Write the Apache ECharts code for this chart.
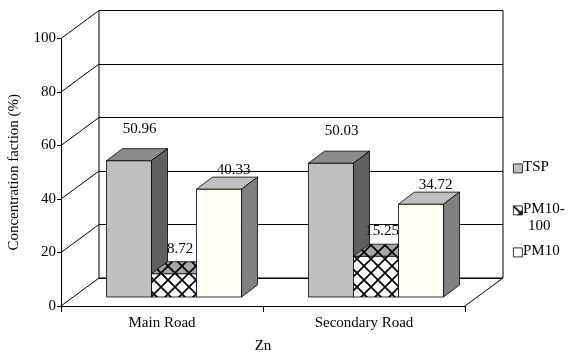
<!DOCTYPE html>
<html>
<head>
<meta charset="utf-8">
<script src="https://cdn.jsdelivr.net/npm/echarts@6/dist/echarts.min.js"></script>
<style>
  html, body { margin: 0; padding: 0; background: #fff; }
  #chart { width: 569px; height: 355px; }
</style>
</head>
<body>
<div id="chart"></div>
<script>
// Zn concentration fractions by road type
const categories = ['Main Road', 'Secondary Road'];
const seriesNames = ['TSP', 'PM10-100', 'PM10'];
const tsp = [50.96, 50.03];
const pm10to100 = [8.72, 15.25];
const pm10 = [40.33, 34.72];
const yTicks = [0, 20, 40, 60, 80, 100];

const FONT = "'Liberation Serif', 'Times New Roman', serif";

// pseudo-3D geometry (pixels)
const DX = 38, DY = 28;          // full depth of the floor / side wall
const FX = 12, FY = 9;           // bars sit this far behind the front plane
const BX = 16, BY = 12;          // depth of each bar
const BAR_FRAC = 45 / 202;       // bar width as a fraction of the category band

function hatchCanvas(bg) {
  const s = 14;
  const c = document.createElement('canvas');
  c.width = s; c.height = s;
  const g = c.getContext('2d');
  g.fillStyle = bg;
  g.fillRect(0, 0, s, s);
  g.strokeStyle = '#000';
  g.lineWidth = 1.7;
  g.beginPath();
  g.moveTo(-1, -1); g.lineTo(s + 1, s + 1);
  g.moveTo(s + 1, -1); g.lineTo(-1, s + 1);
  g.stroke();
  return c;
}
function dotCanvas() {
  const s = 8;
  const c = document.createElement('canvas');
  c.width = s; c.height = s;
  const g = c.getContext('2d');
  g.fillStyle = '#fffff6';
  g.fillRect(0, 0, s, s);
  g.fillStyle = '#eeeec4';
  g.fillRect(1, 1, 1, 1);
  g.fillRect(5, 5, 1, 1);
  return c;
}
const hatchFront = { image: hatchCanvas('#ffffff'), repeat: 'repeat' };
const hatchTop = { image: hatchCanvas('#a8a8a8'), repeat: 'repeat' };
const hatchSide = { image: hatchCanvas('#707070'), repeat: 'repeat' };
const dotFront = { image: dotCanvas(), repeat: 'repeat' };

const barStyles = [
  { front: '#c0c0c0', top: '#8c8c8c', side: '#606060', nudge: [10.5, -20] },
  { front: hatchFront, top: hatchTop, side: hatchSide, nudge: [6, -13] },
  { front: dotFront, top: '#c0c0c0', side: '#808080', nudge: [14.5, -7] }
];

function barRenderer(k) {
  const st = barStyles[k];
  return function (params, api) {
    const cat = api.value(0), v = api.value(1);
    const base = api.coord([cat, 0]);
    const top = api.coord([cat, v]);
    const bw = api.size([1, 0])[0] * BAR_FRAC;
    const cx = base[0] + FX + (k - 1) * bw;
    const x0 = cx - bw / 2, x1 = cx + bw / 2;
    const yb = base[1] - FY, yt = top[1] - FY;
    const edge = { stroke: '#000', lineWidth: 0.8 };
    return {
      type: 'group',
      children: [
        { type: 'polygon', shape: { points: [[x0, yt], [x1, yt], [x1, yb], [x0, yb]] },
          style: Object.assign({ fill: st.front }, edge) },
        { type: 'polygon', shape: { points: [[x0, yt], [x1, yt], [x1 + BX, yt - BY], [x0 + BX, yt - BY]] },
          style: Object.assign({ fill: st.top }, edge) },
        { type: 'polygon', shape: { points: [[x1, yt], [x1 + BX, yt - BY], [x1 + BX, yb - BY], [x1, yb]] },
          style: Object.assign({ fill: st.side }, edge) },
        { type: 'text', x: cx + st.nudge[0], y: yt - BY + st.nudge[1],
          style: { text: v.toFixed(2), font: '15px ' + FONT, fill: '#000',
                   align: 'center', verticalAlign: 'middle' } }
      ]
    };
  };
}

// diagonals of the left wall and the floor's right edge
function wallRenderer(params, api) {
  const cs = params.coordSys;
  const y = api.coord([0, api.value(1)])[1];
  const kids = [
    { type: 'line', shape: { x1: cs.x, y1: y, x2: cs.x + DX, y2: y - DY },
      style: { stroke: '#000', lineWidth: 1 } }
  ];
  if (api.value(1) === 0) {
    kids.push({ type: 'line',
      shape: { x1: cs.x + cs.width, y1: y, x2: cs.x + cs.width + DX, y2: y - DY },
      style: { stroke: '#000', lineWidth: 1 } });
  }
  return { type: 'group', children: kids };
}

const values = [tsp, pm10to100, pm10];

const legendRows = [
  { y: 168, fill: '#c0c0c0', lines: ['TSP'] },
  { y: 210, fill: hatchFront, lines: ['PM10-', '100'] },
  { y: 252, fill: '#ffffff', lines: ['PM10'] }
];
const legendGraphics = [];
legendRows.forEach(function (r) {
  legendGraphics.push({ type: 'rect', left: 513, top: r.y - 4.5,
    shape: { width: 9, height: 9 }, style: { fill: r.fill, stroke: '#000', lineWidth: 0.8 } });
  r.lines.forEach(function (t, i) {
    legendGraphics.push({ type: 'text', left: i === 0 ? 523 : 528, top: r.y - 8.5 + i * 17,
      style: { text: t, font: '15px ' + FONT, fill: '#000' } });
  });
});

const chart = echarts.init(document.getElementById('chart'), null, { renderer: 'canvas' });
chart.setOption({
  animation: false,
  backgroundColor: '#fff',
  grid: [
    { left: 61, top: 38.5, width: 404, height: 267.5, containLabel: false,
      outerBoundsMode: 'none' },
    { left: 99, top: 10.5, width: 404, height: 267.5, show: true, outerBoundsMode: 'none',
      borderColor: '#000', borderWidth: 1, backgroundColor: 'transparent' }
  ],
  xAxis: [
    { type: 'category', gridIndex: 0, data: categories,
      axisLine: { lineStyle: { color: '#000', width: 1 } },
      axisTick: { show: true, length: 6, lineStyle: { color: '#000' } },
      axisLabel: { color: '#000', fontFamily: FONT, fontSize: 15, margin: 10 },
      name: 'Zn', nameLocation: 'middle', nameGap: 33,
      nameTextStyle: { color: '#000', fontFamily: FONT, fontSize: 15 } },
    { type: 'category', gridIndex: 1, data: categories, show: false }
  ],
  yAxis: [
    { type: 'value', gridIndex: 0, min: 0, max: 100, interval: 20,
      axisLine: { show: true, lineStyle: { color: '#000', width: 1 } },
      axisTick: { show: true, length: 4, lineStyle: { color: '#000' } },
      axisLabel: { color: '#000', fontFamily: FONT, fontSize: 15, margin: 5,
        formatter: function (v) { return yTicks.indexOf(v) >= 0 ? String(v) : ''; } },
      splitLine: { show: false },
      name: 'Concentration faction (%)', nameLocation: 'middle', nameGap: 39,
      nameTextStyle: { color: '#000', fontFamily: FONT, fontSize: 15 } },
    { type: 'value', gridIndex: 1, min: 0, max: 100, interval: 20,
      axisLine: { show: false }, axisTick: { show: false }, axisLabel: { show: false },
      splitLine: { show: true, lineStyle: { color: '#000', width: 1 } } }
  ],
  graphic: legendGraphics,
  series: [
    { type: 'custom', name: 'wall', xAxisIndex: 0, yAxisIndex: 0, z: 1,
      renderItem: wallRenderer, silent: true,
      data: yTicks.map(function (t) { return [0, t]; }) }
  ].concat(seriesNames.map(function (n, k) {
    return {
      type: 'custom', name: n, xAxisIndex: 0, yAxisIndex: 0, z: 3 + k,
      renderItem: barRenderer(k),
      data: values[k].map(function (v, i) { return [i, v]; })
    };
  }))
});
</script>
</body>
</html>
